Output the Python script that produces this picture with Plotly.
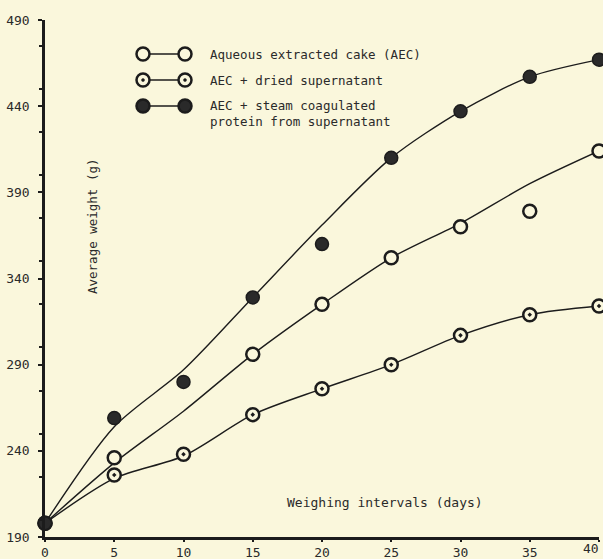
import plotly.graph_objects as go

# ---------------- data ----------------
days = [0, 5, 10, 15, 20, 25, 30, 35, 40]

# measured points (markers)
aec_pts = [198, 236, None, 296, 325, 352, 370, 379, 414]          # open circles
aec_dried_pts = [198, 226, 238, 261, 276, 290, 307, 319, 324]     # circle with dot
aec_steam_pts = [198, 259, 280, 329, 360, 410, 437, 457, 467]     # filled circles

# hand-drawn fitted curves
aec_curve = [198, 233, 263, 296, 325, 352, 372, 395, 414]
aec_dried_curve = [198, 224, 237, 261, 276, 290, 307, 319, 324]
aec_steam_curve = [198, 254, 287, 329, 371, 410, 437, 457, 467]

legend_labels = ["Aqueous extracted cake (AEC)",
                 "AEC + dried supernatant",
                 "AEC + steam coagulated<br>protein from supernatant"]

x_ticks = [0, 5, 10, 15, 20, 25, 30, 35, 40]
y_ticks = [190, 240, 290, 340, 390, 440, 490]

x_title = "Weighing intervals (days)"
y_title = "Average weight (g)"

# ---------------- style ----------------
BG = "#FAF7DC"
INK = "#1c1c1c"
TXT = "#2a2a2a"
FONT = "DejaVu Sans Mono"
W, H = 603, 559
L, R, T, B = 45, 4, 20, 22
PW, PH = W - L - R, H - T - B


def xp(px):
    return (px - L) / PW


def yp(py):
    return (H - B - py) / PH


fig = go.Figure()

for curve in (aec_steam_curve, aec_curve, aec_dried_curve):
    fig.add_trace(go.Scatter(x=days, y=curve, mode="lines",
                             line=dict(color=INK, width=1.4, shape="spline", smoothing=0.8),
                             hoverinfo="skip", showlegend=False, cliponaxis=False))

fig.add_trace(go.Scatter(x=days, y=aec_pts, mode="markers", name=legend_labels[0],
                         marker=dict(symbol="circle", size=13, color=BG,
                                     line=dict(color=INK, width=2.5)),
                         showlegend=False, cliponaxis=False))
fig.add_trace(go.Scatter(x=days, y=aec_dried_pts, mode="markers", name=legend_labels[1],
                         marker=dict(symbol="circle-dot", size=13, color=BG,
                                     line=dict(color=INK, width=2.5)),
                         showlegend=False, cliponaxis=False))
fig.add_trace(go.Scatter(x=days, y=aec_steam_pts, mode="markers", name=legend_labels[2],
                         marker=dict(symbol="circle", size=13, color="#2a2a2a",
                                     line=dict(color=INK, width=1.5)),
                         showlegend=False, cliponaxis=False))

# ---------------- hand-made legend ----------------
shapes = []
annotations = []
rows = [(54, "open"), (80, "dot"), (106, "filled")]
r = 6.5
for i, (cy, kind) in enumerate(rows):
    x1c, x2c = 143, 185
    shapes.append(dict(type="line", xref="paper", yref="paper",
                       x0=xp(x1c + r), x1=xp(x2c - r), y0=yp(cy), y1=yp(cy),
                       line=dict(color=INK, width=1.5)))
    for cx in (x1c, x2c):
        fill = "#2a2a2a" if kind == "filled" else BG
        shapes.append(dict(type="circle", xref="paper", yref="paper",
                           x0=xp(cx - r), x1=xp(cx + r), y0=yp(cy + r), y1=yp(cy - r),
                           fillcolor=fill, line=dict(color=INK, width=2.5)))
        if kind == "dot":
            shapes.append(dict(type="circle", xref="paper", yref="paper",
                               x0=xp(cx - 1.5), x1=xp(cx + 1.5), y0=yp(cy + 1.5), y1=yp(cy - 1.5),
                               fillcolor=INK, line=dict(color=INK, width=0.5)))
    ty = cy if kind != "filled" else cy + 7
    annotations.append(dict(xref="paper", yref="paper", x=xp(208), y=yp(ty),
                            xanchor="left", yanchor="middle", align="left",
                            text=legend_labels[i], showarrow=False,
                            font=dict(family=FONT, size=12.5, color=TXT)))

annotations.append(dict(xref="paper", yref="paper", x=xp(385), y=yp(502),
                        xanchor="center", yanchor="middle", text=x_title, showarrow=False,
                        font=dict(family=FONT, size=13, color=TXT)))
annotations.append(dict(xref="paper", yref="paper", x=xp(92), y=yp(227),
                        xanchor="center", yanchor="middle", text=y_title, showarrow=False,
                        textangle=-90, font=dict(family=FONT, size=12.5, color=TXT)))
# last x tick label, kept inside the page edge
annotations.append(dict(xref="x", yref="paper", x=x_ticks[-1], y=yp(548),
                        xanchor="right", yanchor="middle", text=str(x_ticks[-1]),
                        showarrow=False, xshift=2,
                        font=dict(family=FONT, size=13, color=TXT)))

fig.update_layout(
    width=W, height=H,
    margin=dict(l=L, r=R, t=T, b=B, pad=0, autoexpand=False),
    paper_bgcolor=BG, plot_bgcolor=BG,
    showlegend=False,
    shapes=shapes, annotations=annotations,
    font=dict(family=FONT, color=TXT, size=13),
)
fig.update_xaxes(range=[0, 40], tickvals=x_ticks,
                 ticktext=[str(v) for v in x_ticks[:-1]] + [""],
                 automargin=False,
                 showgrid=False, zeroline=False, showline=True, linecolor=INK, linewidth=2.5,
                 ticks="outside", ticklen=2, tickwidth=2, tickcolor=INK,
                 ticklabelstandoff=0,
                 tickfont=dict(family=FONT, size=13, color=TXT))
fig.update_yaxes(range=[190, 490], tickvals=y_ticks, ticktext=[str(v) for v in y_ticks],
                 automargin=False, ticklabeloverflow="allow",
                 showgrid=False, zeroline=False, showline=True, linecolor=INK, linewidth=2.5,
                 ticks="outside", ticklen=4, tickwidth=2, tickcolor=INK,
                 ticklabelstandoff=6,
                 minor=dict(ticks="outside", ticklen=3, dtick=25, tickcolor=INK, tickwidth=1.5),
                 tickfont=dict(family=FONT, size=13, color=TXT))

fig.write_html(
    "out.html",
    config={"displayModeBar": False},
    post_script="document.body.style.margin='0';document.body.style.background='%s';" % BG,
)
